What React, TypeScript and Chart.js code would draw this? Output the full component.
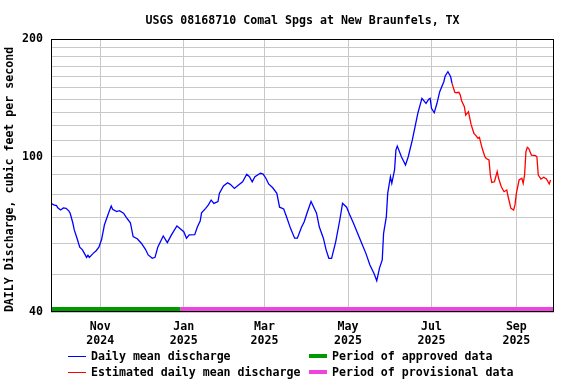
import React, { useEffect, useRef } from "react";
import { Chart, registerables } from "chart.js";

Chart.register(...registerables);

const TITLE = "USGS 08168710 Comal Spgs at New Braunfels, TX";
const Y_TITLE = "DAILY Discharge, cubic feet per second";

// x values are day offsets from 2024-09-26
const X_MIN = 0;
const X_MAX = 367.5;
const MONTH_TICK_DAYS = [36, 97, 156, 217, 278, 340];
const MONTH_TICK_LABELS = [
  ["Nov", "2024"],
  ["Jan", "2025"],
  ["Mar", "2025"],
  ["May", "2025"],
  ["Jul", "2025"],
  ["Sep", "2025"],
];

const Y_MIN = 40;
const Y_MAX = 200;
const Y_GRID_VALUES = [40, 50, 60, 70, 80, 90, 100, 110, 120, 130, 140, 150, 160, 170, 180, 190, 200];
const Y_LABELED_VALUES = [40, 100, 200];

const DAILY_DAYS = [
  0, 2, 4, 5, 7, 9, 11, 13, 14, 16, 17, 19, 21, 23, 26, 27, 28, 31, 33, 35, 37, 39, 42, 44, 45, 48, 50, 53, 55, 58,
  60, 63, 66, 69, 71, 74, 76, 78, 82, 85, 88, 92, 94, 97, 99, 101, 105, 107, 109, 110, 113, 115, 117, 119, 122, 123,
  126, 129, 131, 134, 137, 140, 143, 145, 147, 149, 153, 155, 157, 159, 162, 165, 167, 170, 172, 175, 178, 180, 183,
  185, 187, 190, 194, 196, 199, 201, 203, 205, 208, 211, 213, 216, 218, 221, 224, 227, 230, 233, 236, 238, 240, 242,
  243, 245, 246, 248, 249, 251, 252, 253, 256, 259, 261, 264, 266, 268, 271, 274, 276, 277, 278, 280, 282, 284, 287,
  288, 290, 292, 293,
];
const DAILY_VALUES = [
  75.9, 75.2, 74.9, 73.9, 73.0, 73.9, 73.7, 72.6, 71.6, 67.5, 64.9, 61.8, 58.6, 57.7, 55.2, 55.9, 55.2, 56.6, 57.4,
  58.6, 61.4, 66.8, 71.6, 74.7, 73.3, 72.3, 72.7, 71.6, 69.9, 67.7, 62.4, 61.6, 60.0, 57.9, 56.0, 54.9, 55.2, 58.6,
  62.6, 60.2, 63.0, 66.4, 65.5, 64.2, 61.8, 63.0, 63.1, 66.1, 68.4, 71.8, 73.7, 75.2, 77.4, 75.9, 76.7, 80.5, 84.1,
  85.7, 84.9, 82.9, 84.6, 86.2, 90.1, 88.8, 86.2, 88.8, 90.6, 90.2, 88.0, 85.1, 83.2, 80.5, 74.2, 73.4, 70.2, 65.5,
  61.8, 61.8, 65.9, 68.1, 71.6, 76.7, 71.6, 66.1, 61.8, 57.7, 54.9, 54.9, 60.5, 68.8, 75.9, 74.2, 71.3, 67.5, 63.6,
  60.0, 56.6, 52.8, 50.2, 48.1, 51.8, 54.4, 63.6, 70.2, 80.5, 88.8, 85.4, 92.4, 103.9, 106.4, 99.9, 95.1, 99.9, 110.3,
  119.3, 129.0, 141.0, 136.9, 140.2, 141.0, 132.9, 129.5, 136.9, 146.6, 155.5, 160.8, 164.9, 160.1, 154.0,
];

const EST_DAYS = [
  293, 295, 296, 298, 299, 300, 302, 303, 305, 306, 307, 309, 310, 312, 313, 315, 317, 318, 320, 321, 322, 324, 326,
  327, 329, 331, 333, 334, 336, 338, 339, 340, 342, 344, 345, 346, 347, 348, 349, 351, 354, 355, 356, 358, 360, 362,
  364, 365,
];
const EST_VALUES = [
  154.0, 146.1, 145.7, 146.1, 143.8, 139.0, 134.2, 127.7, 130.3, 125.3, 120.5, 114.7, 113.6, 111.4, 112.0, 105.0, 99.9,
  98.9, 98.0, 89.7, 85.9, 86.2, 91.5, 88.0, 83.7, 81.3, 82.1, 78.9, 73.7, 73.0, 75.2, 80.5, 87.1, 88.0, 85.4, 89.7,
  102.9, 105.6, 105.0, 100.9, 100.5, 99.9, 89.7, 87.6, 88.5, 87.6, 85.1, 87.1,
];

const APPROVED_DAYS = [0, 94.5];
const PROVISIONAL_DAYS = [94.5, 367.5];
const STATUS_BAR_VALUE = 40.7;

const LEGEND_LABELS = [
  "Daily mean discharge",
  "Estimated daily mean discharge",
  "Period of approved data",
  "Period of provisional data",
];

const BLUE = "#0000ff";
const RED = "#ff0000";
const GREEN = "#009900";
const PINK = "#ee44dd";
const FONT_FAMILY = '"DejaVu Sans Mono", "Liberation Mono", monospace';
const FONT_SIZE = 11.6;
const FONT = `bold ${FONT_SIZE}px ${FONT_FAMILY}`;

const decorPlugin = {
  id: "decor",
  afterDatasetsDraw(chart: any) {
    const { ctx, chartArea: a } = chart;
    ctx.save();
    ctx.strokeStyle = "#000";
    ctx.lineWidth = 1;
    ctx.strokeRect(a.left + 0.5, a.top + 0.5, a.right - a.left - 1, a.bottom - a.top - 1);
    ctx.restore();
  },
  afterDraw(chart: any) {
    const { ctx, chartArea: a } = chart;
    ctx.save();
    ctx.fillStyle = "#000";
    ctx.font = FONT;
    // Title
    ctx.textAlign = "center";
    ctx.textBaseline = "middle";
    ctx.fillText(TITLE, (a.left + a.right) / 2, 20.5);
    // Y title
    ctx.save();
    ctx.translate(10, 179.5);
    ctx.rotate(-Math.PI / 2);
    ctx.fillText(Y_TITLE, 0, 0);
    ctx.restore();
    // Legend
    const items = [
      { label: LEGEND_LABELS[0], color: BLUE, width: 1, x: 68, y: 356 },
      { label: LEGEND_LABELS[1], color: RED, width: 1, x: 68, y: 372 },
      { label: LEGEND_LABELS[2], color: GREEN, width: 4, x: 309, y: 356 },
      { label: LEGEND_LABELS[3], color: PINK, width: 4, x: 309, y: 372 },
    ];
    ctx.textAlign = "left";
    for (const it of items) {
      ctx.strokeStyle = it.color;
      ctx.lineWidth = it.width;
      ctx.beginPath();
      const yy = it.width % 2 === 1 ? it.y + 0.5 : it.y;
      ctx.moveTo(it.x, yy);
      ctx.lineTo(it.x + 18, yy);
      ctx.stroke();
      ctx.fillStyle = "#000";
      ctx.fillText(it.label, it.x + 23, it.y + 0.5);
    }
    ctx.restore();
  },
};

export default function App() {
  const canvasRef = useRef<HTMLCanvasElement | null>(null);

  useEffect(() => {
    document.body.style.margin = "0";
    const canvas = canvasRef.current;
    if (!canvas) return;
    const chart = new Chart(canvas, {
      type: "line",
      data: {
        datasets: [
          {
            label: LEGEND_LABELS[2],
            data: APPROVED_DAYS.map((d) => ({ x: d, y: STATUS_BAR_VALUE })),
            borderColor: GREEN,
            borderWidth: 4,
            pointRadius: 0,
            borderCapStyle: "butt",
          },
          {
            label: LEGEND_LABELS[3],
            data: PROVISIONAL_DAYS.map((d) => ({ x: d, y: STATUS_BAR_VALUE })),
            borderColor: PINK,
            borderWidth: 4,
            pointRadius: 0,
            borderCapStyle: "butt",
          },
          {
            label: LEGEND_LABELS[0],
            data: DAILY_DAYS.map((d, i) => ({ x: d, y: DAILY_VALUES[i] })),
            borderColor: BLUE,
            borderWidth: 1.3,
            pointRadius: 0,
            tension: 0,
          },
          {
            label: LEGEND_LABELS[1],
            data: EST_DAYS.map((d, i) => ({ x: d, y: EST_VALUES[i] })),
            borderColor: RED,
            borderWidth: 1.3,
            pointRadius: 0,
            tension: 0,
          },
        ],
      },
      options: {
        responsive: false,
        devicePixelRatio: 1,
        animation: false,
        layout: { padding: { top: 39, right: 22, left: 0, bottom: 0 } },
        plugins: {
          legend: { display: false },
          title: { display: false },
          tooltip: { enabled: false },
        },
        scales: {
          x: {
            type: "linear",
            min: X_MIN,
            max: X_MAX,
            border: { display: false },
            grid: { color: "#c8c8c8", lineWidth: 1, drawTicks: false },
            afterBuildTicks: (axis: any) => {
              axis.ticks = MONTH_TICK_DAYS.map((v) => ({ value: v }));
            },
            afterFit: (axis: any) => {
              axis.height = 72;
            },
            ticks: {
              autoSkip: false,
              maxRotation: 0,
              padding: 8,
              color: "#000",
              font: { family: FONT_FAMILY, size: FONT_SIZE, weight: "bold" },
              callback: (_v: any, i: number) => MONTH_TICK_LABELS[i],
            },
          },
          y: {
            type: "logarithmic",
            min: Y_MIN,
            max: Y_MAX,
            border: { display: false },
            grid: { color: "#c8c8c8", lineWidth: 1, drawTicks: false },
            afterBuildTicks: (axis: any) => {
              axis.ticks = Y_GRID_VALUES.map((v) => ({ value: v }));
            },
            afterFit: (axis: any) => {
              axis.width = 51;
            },
            ticks: {
              autoSkip: false,
              padding: 8,
              color: "#000",
              font: { family: FONT_FAMILY, size: FONT_SIZE, weight: "bold" },
              callback: (v: any) => (Y_LABELED_VALUES.includes(Number(v)) ? String(v) : ""),
            },
          },
        },
      },
      plugins: [decorPlugin],
    } as any);
    return () => chart.destroy();
  }, []);

  return (
    <canvas
      ref={canvasRef}
      width={576}
      height={384}
      style={{ display: "block", width: 576, height: 384 }}
    />
  );
}
